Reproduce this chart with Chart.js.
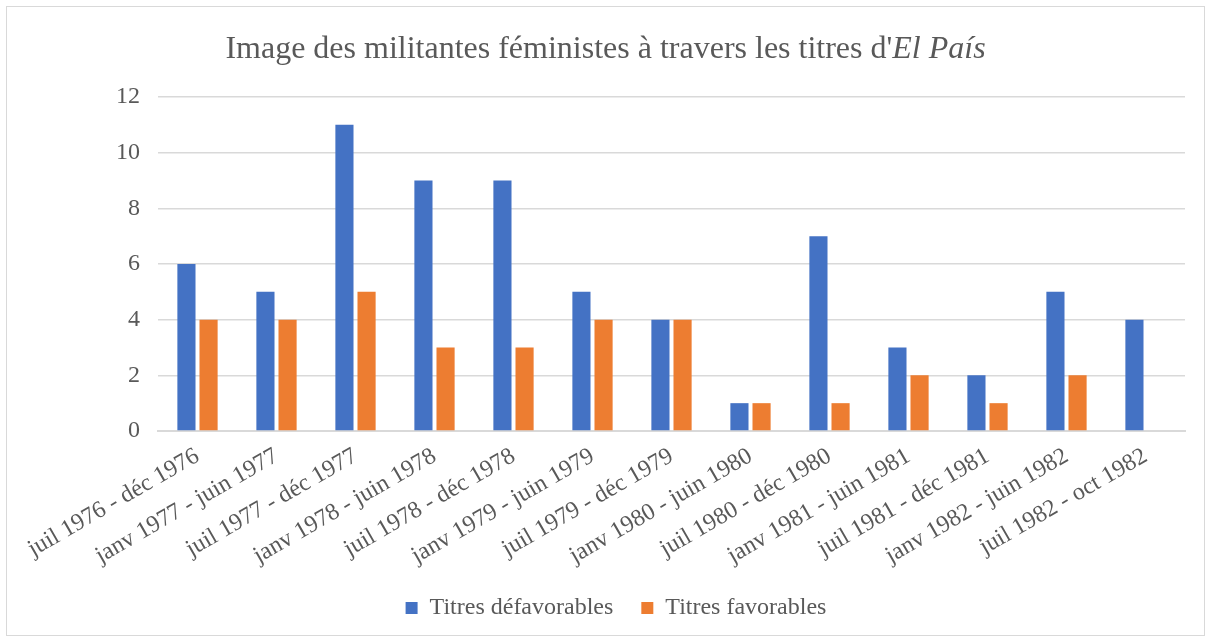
<!DOCTYPE html>
<html lang="fr">
  <head>
    <meta charset="UTF-8" />
    <title>Image des militantes féministes</title>
    <script src="https://cdn.jsdelivr.net/npm/chart.js"></script>
    <style>
      body {
        margin: 0;
        background: #fff;
        font-family: "Liberation Serif", "Times New Roman", serif;
      }
      .cadre {
        position: absolute;
        left: 6px;
        top: 6px;
        width: 1197px;
        height: 628px;
        border: 1px solid #d9d9d9;
        background: #fff;
      }
      .titre {
        position: absolute;
        left: 0;
        right: 0;
        top: 21px;
        text-align: center;
        font-size: 32px;
        color: #595959;
        line-height: 38px;
      }
      canvas {
        position: absolute;
        left: 0;
        top: 0;
      }
    </style>
  </head>
  <body>
    <div class="cadre">
      <canvas id="graphique" width="1197" height="628"></canvas>
      <div class="titre">Image des militantes féministes à travers les titres d'<i>El País</i></div>
    </div>

    <script>
      const periodes = [
        "juil 1976 - déc 1976",
        "janv 1977 - juin 1977",
        "juil 1977 - déc 1977",
        "janv 1978 - juin 1978",
        "juil 1978 - déc 1978",
        "janv 1979 - juin 1979",
        "juil 1979 - déc 1979",
        "janv 1980 - juin 1980",
        "juil 1980 - déc 1980",
        "janv 1981 - juin 1981",
        "juil 1981 - déc 1981",
        "janv 1982 - juin 1982",
        "juil 1982 - oct 1982",
      ];
      const defavorables = [6, 5, 11, 9, 9, 5, 4, 1, 7, 3, 2, 5, 4];
      const favorables = [4, 4, 5, 3, 3, 4, 4, 1, 1, 2, 1, 2, 0];

      const police = "'Liberation Serif', 'Times New Roman', serif";
      const gris = "#595959";

      new Chart(document.getElementById("graphique"), {
        type: "bar",
        data: {
          labels: periodes,
          datasets: [
            {
              label: "Titres défavorables",
              data: defavorables,
              backgroundColor: "#4472c4",
              categoryPercentage: 0.56,
              barPercentage: 0.82,
            },
            {
              label: "Titres favorables",
              data: favorables,
              backgroundColor: "#ed7d31",
              categoryPercentage: 0.56,
              barPercentage: 0.82,
            },
          ],
        },
        options: {
          responsive: false,
          animation: false,
          layout: { padding: { top: 90, right: 19, bottom: 5, left: 40 } },
          scales: {
            x: {
              grid: { display: false },
              border: { color: "#d9d9d9", width: 2 },
              ticks: {
                color: gris,
                font: { family: police, size: 24 },
                minRotation: 30,
                maxRotation: 30,
              },
              afterFit: (axe) => {
                axe.height = 137;
              },
            },
            y: {
              min: 0,
              max: 12,
              ticks: {
                stepSize: 2,
                color: gris,
                padding: 18,
                font: { family: police, size: 24 },
              },
              grid: { color: "#d9d9d9", lineWidth: 1.5, drawTicks: false },
              border: { display: false },
              afterFit: (axe) => {
                axe.width = 111;
              },
            },
          },
          plugins: {
            legend: {
              position: "bottom",
              labels: {
                color: gris,
                font: { family: police, size: 24 },
                boxWidth: 12,
                boxHeight: 12,
                padding: 28,
              },
            },
            tooltip: { enabled: false },
          },
        },
      });
    </script>
  </body>
</html>
